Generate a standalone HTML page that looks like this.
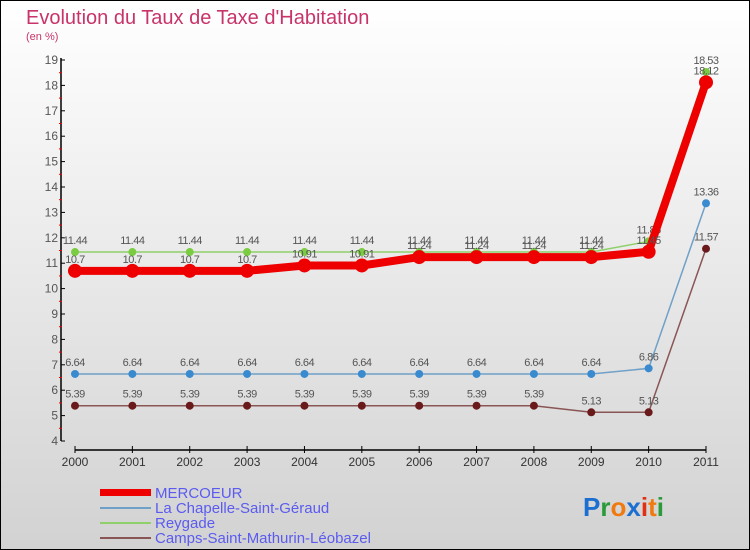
<!DOCTYPE html>
<html><head><meta charset="utf-8"><style>
body{margin:0;width:750px;height:550px;overflow:hidden}
svg{display:block;font-family:"Liberation Sans",sans-serif}
</style></head><body>
<svg id="c" width="750" height="550" xmlns="http://www.w3.org/2000/svg">
<defs><linearGradient id="bg" x1="0" y1="0" x2="0" y2="1"><stop offset="0" stop-color="#ffffff"/><stop offset="1" stop-color="#d2d2d2"/></linearGradient></defs>
<rect x="0.5" y="0.5" width="749" height="549" fill="url(#bg)" stroke="#000"/>
<text x="26" y="24" font-size="20" fill="#c8336a">Evolution du Taux de Taxe d'Habitation</text>
<text x="26" y="40" font-size="11" fill="#c8336a">(en %)</text>
<g id="axes"></g><g id="series"></g>
<g>
<rect x="100" y="489" width="51" height="7" fill="#e00"/>
<text x="155" y="498" font-size="15" fill="#5b5bf0">MERCOEUR</text>
<line x1="100" y1="508" x2="151" y2="508" stroke="#6fa0c8" stroke-width="2"/>
<text x="155" y="513" font-size="15" fill="#5b5bf0">La Chapelle-Saint-Géraud</text>
<line x1="100" y1="523" x2="151" y2="523" stroke="#8fd06a" stroke-width="2"/>
<text x="155" y="528" font-size="15" fill="#5b5bf0">Reygade</text>
<line x1="100" y1="538" x2="151" y2="538" stroke="#8a5555" stroke-width="2"/>
<text x="155" y="543" font-size="15" fill="#5b5bf0">Camps-Saint-Mathurin-Léobazel</text>
</g>
<text x="583" y="516" font-size="26" font-weight="bold"><tspan fill="#1a6fd0">P</tspan><tspan fill="#2a9a3a">r</tspan><tspan fill="#f07a10">o</tspan><tspan fill="#1a6fd0">x</tspan><tspan fill="#e03010">i</tspan><tspan fill="#f07a10">t</tspan><tspan fill="#2a9a3a">i</tspan></text>
</svg>
<script>
const years=[2000,2001,2002,2003,2004,2005,2006,2007,2008,2009,2010,2011];
const mercoeur=[10.7,10.7,10.7,10.7,10.91,10.91,11.24,11.24,11.24,11.24,11.45,18.12];
const chapelle=[6.64,6.64,6.64,6.64,6.64,6.64,6.64,6.64,6.64,6.64,6.86,13.36];
const reygade=[11.44,11.44,11.44,11.44,11.44,11.44,11.44,11.44,11.44,11.44,11.86,18.53];
const camps=[5.39,5.39,5.39,5.39,5.39,5.39,5.39,5.39,5.39,5.13,5.13,11.57];
const yTicks=[4,5,6,7,8,9,10,11,12,13,14,15,16,17,18,19];
const NS="http://www.w3.org/2000/svg";
const xs=i=>75+i*(706-75)/11;
const ys=v=>441-(v-4)*(441-60)/15;
function mk(tag,attrs,parent){const e=document.createElementNS(NS,tag);for(const k in attrs)e.setAttribute(k,attrs[k]);parent.appendChild(e);return e;}
const ax=document.getElementById('axes'),sg=document.getElementById('series');
let yl=mk('line',{x1:61,y1:58,x2:61,y2:441,stroke:'#000','stroke-width':1.5},ax);


yTicks.forEach(t=>{const y=ys(t);mk('line',{x1:61,y1:y,x2:65,y2:y,stroke:'#000'},ax);
 if(t<19)mk('line',{x1:59,y1:ys(t+0.5),x2:62,y2:ys(t+0.5),stroke:'#e00'},ax);
 const tx=mk('text',{x:58,y:y+4,'font-size':12,fill:'#555','text-anchor':'end'},ax);tx.textContent=t;
 
 });
let xl=mk('line',{x1:75,y1:450,x2:706,y2:450,stroke:'#000','stroke-width':1.5},ax);


years.forEach((yr,i)=>{const x=xs(i);mk('line',{x1:x,y1:446,x2:x,y2:453,stroke:'#000'},ax);
 const tx=mk('text',{x:x,y:466,'font-size':12,fill:'#333','text-anchor':'middle'},ax);tx.textContent=yr;
 
 });
function series(data,color,w,r,name,dot){
 const g=mk('g',{},sg);
 
 
 mk('polyline',{points:data.map((v,i)=>xs(i)+','+ys(v)).join(' '),fill:'none',stroke:color,'stroke-width':w,'stroke-linejoin':'round'},g);
 data.forEach((v,i)=>{const c=mk('circle',{cx:xs(i),cy:ys(v),r:r,fill:dot},g);
  
  
  const t=mk('text',{x:xs(i),y:ys(v)-8,'font-size':11,fill:'#555','text-anchor':'middle','letter-spacing':'-0.5'},g);
  t.textContent=String(v);});
}
series(camps,'#8a5555',1.5,4,'series-camps','#6a1a1a');
series(chapelle,'#6fa0c8',1.5,4,'series-la-chapelle','#3a8ad0');
series(reygade,'#8fd06a',1.5,4,'series-reygade','#7acc40');
series(mercoeur,'#ee0000',8,7,'series-mercoeur','#ee0000');
</script>
</body></html>
